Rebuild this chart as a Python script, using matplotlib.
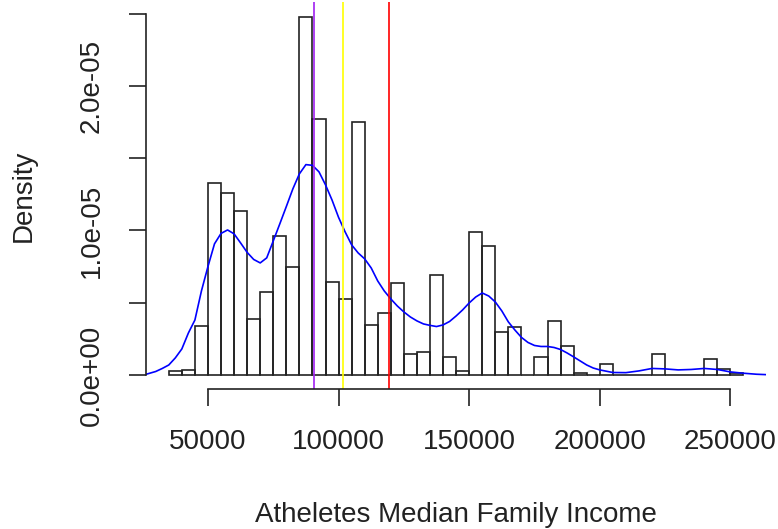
import numpy as np
import matplotlib
matplotlib.use("Agg")
import matplotlib.pyplot as plt

plt.rcParams['font.family'] = ['Liberation Sans', 'DejaVu Sans']

# histogram: bin edges every 5000 from 35000 to 255000, density per bin
bin_left = np.arange(35000, 255000, 5000)
bin_density = [0.25e-6, 0.37e-6, 3.41e-6, 13.27e-6, 12.58e-6, 11.31e-6, 3.88e-6,
               5.76e-6, 9.63e-6, 7.47e-6, 24.78e-6, 17.72e-6, 6.45e-6, 5.24e-6,
               17.48e-6, 3.46e-6, 4.27e-6, 6.36e-6, 1.45e-6, 1.58e-6, 6.93e-6,
               1.22e-6, 0.26e-6, 9.88e-6, 8.94e-6, 2.98e-6, 3.34e-6, 0.0,
               1.22e-6, 3.76e-6, 2.0e-6, 0.16e-6, 0.0, 0.74e-6, 0.0, 0.0,
               0.0, 1.43e-6, 0.0, 0.0, 0.0, 1.11e-6, 0.39e-6, 0.14e-6]

# kernel density estimate
kde_x = [26000, 30000, 32500, 35000, 37500, 40000, 42500, 45000, 47500, 50000,
         52500, 55000, 57500, 60000, 62500, 65000, 67500, 70000, 72500, 75000,
         77500, 80000, 82500, 85000, 87500, 90000, 92500, 95000, 97500, 100000,
         102500, 105000, 107500, 110000, 112500, 115000, 117500, 120000,
         122500, 125000, 127500, 130000, 132500, 135000, 137500, 140000,
         142500, 145000, 147500, 150000, 152500, 155000, 157500, 160000,
         162500, 165000, 167500, 170000, 172500, 175000, 177500, 180000,
         182500, 185000, 187500, 190000, 192500, 195000, 197500, 200000,
         205000, 210000, 215000, 220000, 225000, 230000, 235000, 240000,
         245000, 250000, 255000, 260000, 264000]
kde_y = [0.03e-6, 0.24e-6, 0.45e-6, 0.69e-6, 1.18e-6, 1.80e-6, 2.90e-6,
         3.80e-6, 5.81e-6, 7.50e-6, 9.07e-6, 9.79e-6, 10.03e-6, 9.76e-6,
         9.13e-6, 8.48e-6, 7.99e-6, 7.75e-6, 8.10e-6, 9.27e-6, 10.45e-6,
         11.65e-6, 12.87e-6, 13.91e-6, 14.55e-6, 14.50e-6, 14.05e-6, 13.15e-6,
         12.10e-6, 10.90e-6, 9.90e-6, 9.00e-6, 8.44e-6, 8.03e-6, 7.40e-6,
         6.50e-6, 5.81e-6, 5.26e-6, 4.77e-6, 4.36e-6, 4.01e-6, 3.74e-6,
         3.53e-6, 3.43e-6, 3.35e-6, 3.46e-6, 3.70e-6, 4.08e-6, 4.50e-6,
         4.98e-6, 5.39e-6, 5.67e-6, 5.46e-6, 5.05e-6, 4.43e-6, 3.67e-6,
         3.11e-6, 2.60e-6, 2.25e-6, 2.04e-6, 1.97e-6, 1.97e-6, 1.90e-6,
         1.76e-6, 1.52e-6, 1.25e-6, 0.97e-6, 0.69e-6, 0.48e-6, 0.35e-6,
         0.17e-6, 0.16e-6, 0.28e-6, 0.45e-6, 0.42e-6, 0.35e-6, 0.38e-6,
         0.45e-6, 0.38e-6, 0.21e-6, 0.12e-6, 0.05e-6, 0.02e-6]

# reference lines
median_income = 90600
mid_income = 101700
mean_income = 119400

fig = plt.figure(figsize=(7.78, 5.29), dpi=100)
ax = fig.add_axes([0.1874, 0.2641, 0.7977, 0.7314])

ax.bar(bin_left, bin_density, width=5000, align='edge', fill=False,
       edgecolor='#222222', linewidth=1.2)
ax.plot(kde_x, kde_y, color='blue', linewidth=1.2)
ax.axvline(median_income, color='#A020F0', linewidth=1.2)
ax.axvline(mid_income, color='yellow', linewidth=1.2)
ax.axvline(mean_income, color='red', linewidth=1.2)

ymax = max(bin_density)
ax.set_xlim(35000 - 8800, 255000 + 8800)
ax.set_ylim(-0.04 * ymax, 1.04 * ymax)

for s in ['top', 'right']:
    ax.spines[s].set_visible(False)
ax.spines['bottom'].set_bounds(50000, 250000)
ax.spines['left'].set_bounds(0, 2.5e-5)
for s in ['bottom', 'left']:
    ax.spines[s].set_color('#222222')
    ax.spines[s].set_linewidth(1.2)

ax.set_xticks([50000, 100000, 150000, 200000, 250000])
ax.set_xticklabels(['50000', '100000', '150000', '200000', '250000'])
ax.set_yticks([0, 5e-6, 1e-5, 1.5e-5, 2e-5, 2.5e-5])
ax.set_yticklabels(['0.0e+00', '', '1.0e-05', '', '2.0e-05', ''],
                   rotation=90, va='center')
ax.tick_params(axis='both', length=12.5, width=1.2, color='#222222',
               labelsize=20, labelcolor='#222222')
ax.tick_params(axis='x', pad=16)
ax.tick_params(axis='y', pad=17)

ax.set_xlabel('Atheletes Median Family Income', fontsize=20, color='#222222',
              labelpad=34)
ax.set_ylabel('Density', fontsize=20, color='#222222', labelpad=30)

fig.savefig('out.png', dpi=100)
